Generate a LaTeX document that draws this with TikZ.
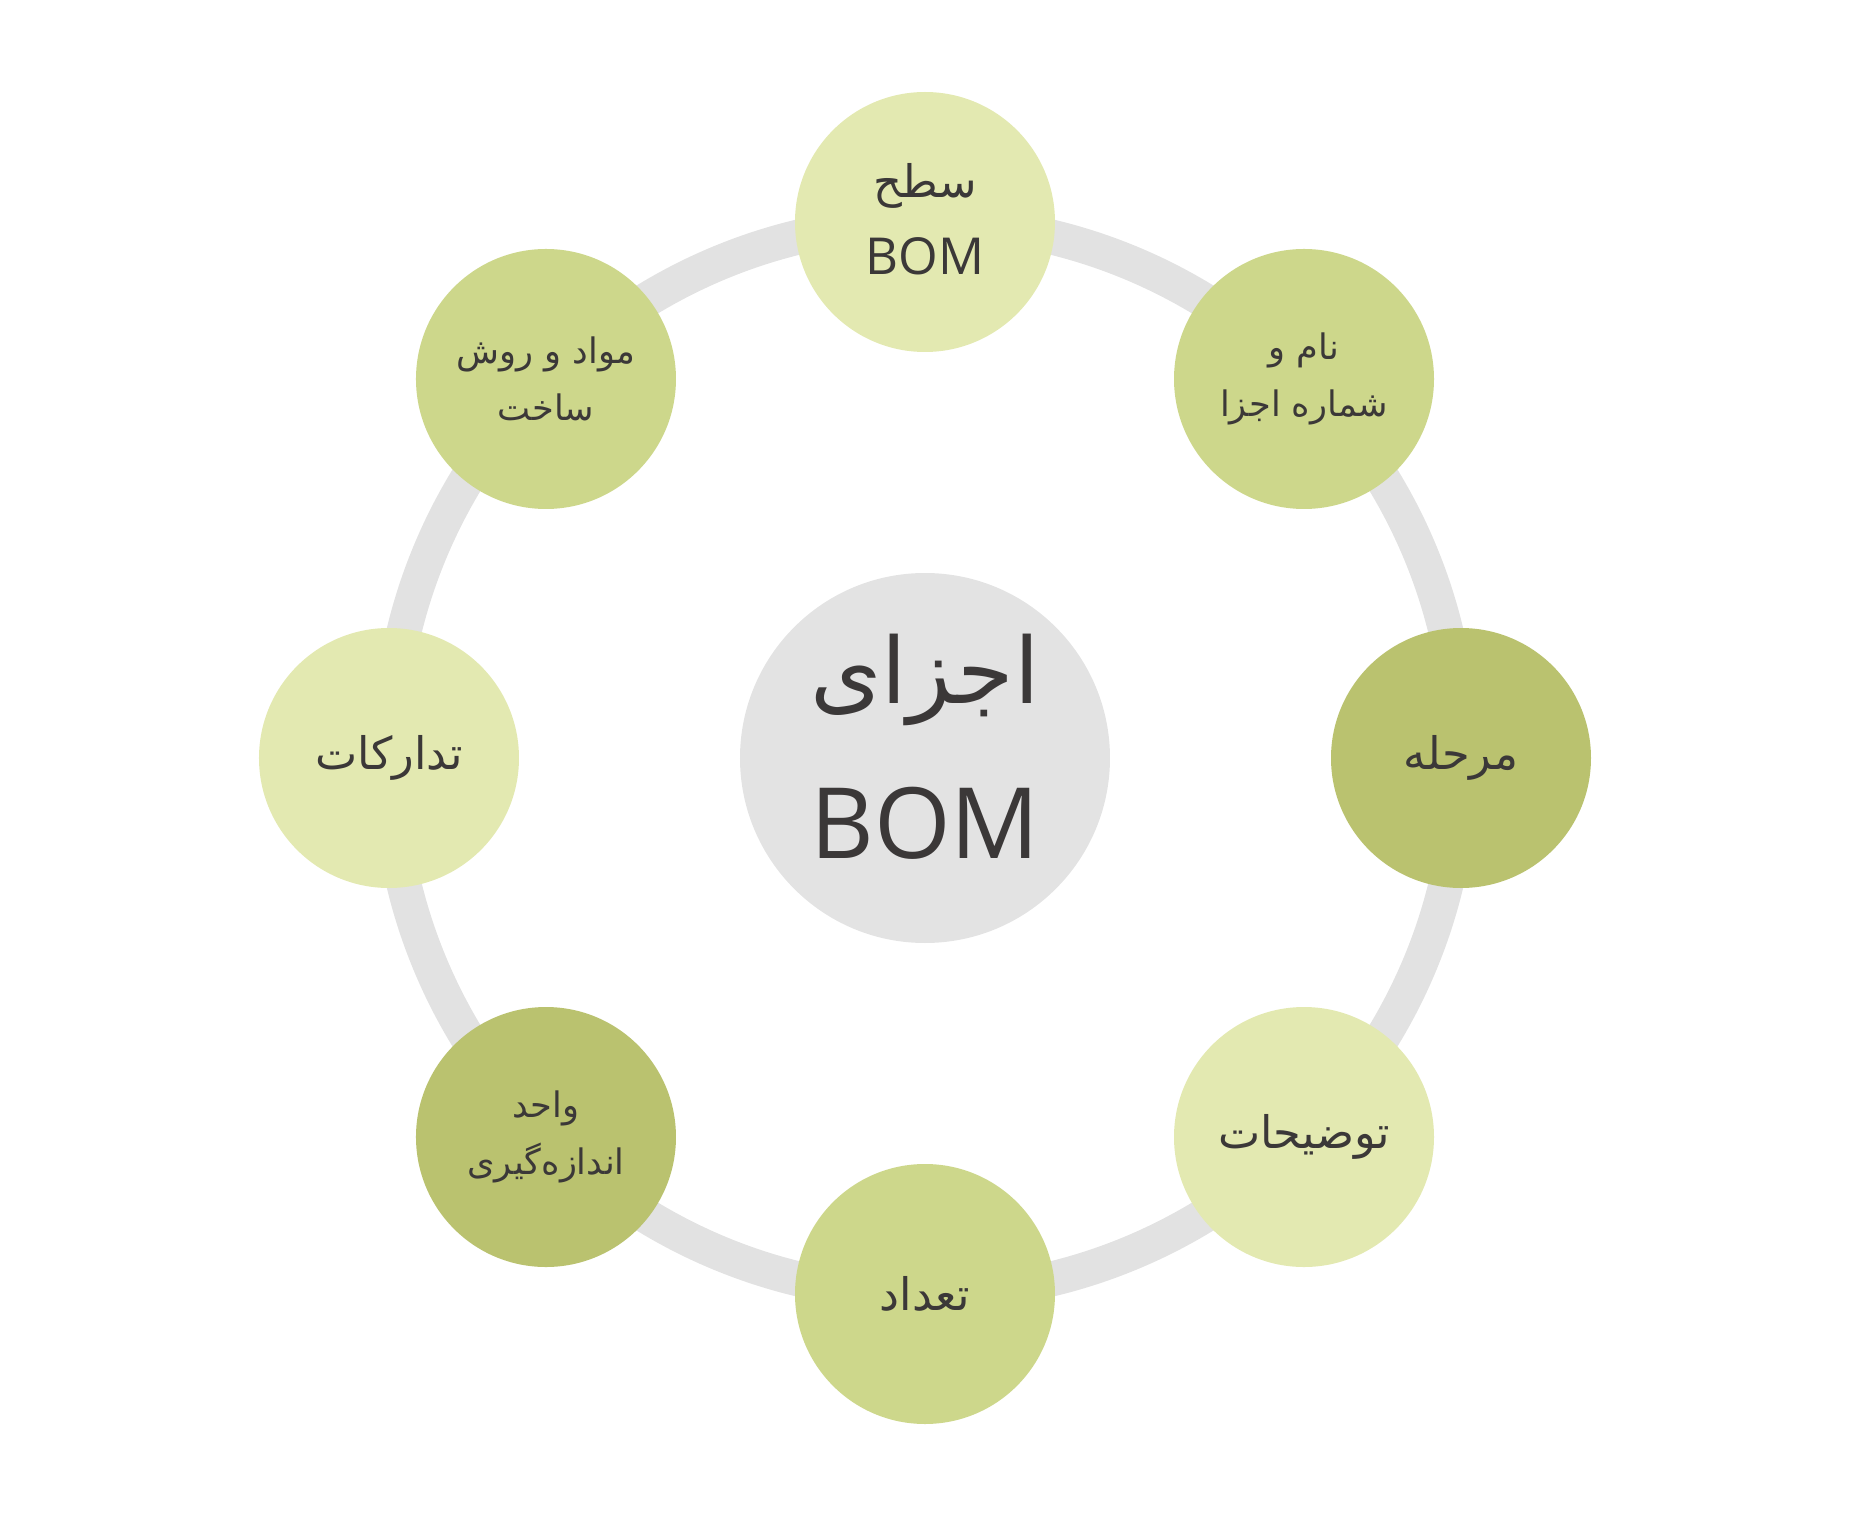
\documentclass[tikz,border=0pt]{standalone}
\usepackage{fontspec}
\setmainfont{DejaVu Sans}
\newfontfamily\arabicfont[Script=Arabic]{DejaVu Sans}
\newfontfamily\latinfont{Open Sans}
\TeXXeTstate=1

\definecolor{ringgray}{HTML}{E2E2E2}
\definecolor{hubgray}{HTML}{E3E3E3}
\definecolor{palegreen}{HTML}{E3E9B1}
\definecolor{midgreen}{HTML}{CDD78B}
\definecolor{deepgreen}{HTML}{BAC26F}
\definecolor{inkgray}{HTML}{3B3838}

\newcommand{\fa}[1]{\beginR #1\endR}

\begin{document}
\begin{tikzpicture}[
        hub/.style={circle, fill=hubgray, text=inkgray, minimum size=7.4cm, inner sep=0pt, align=center,
                    font=\arabicfont\fontsize{52}{88}\selectfont},
        part/.style={circle, text=inkgray, minimum size=5.2cm, inner sep=0pt, align=center,
                    font=\arabicfont\fontsize{20}{32}\selectfont},
        bigpart/.style={part, font=\arabicfont\fontsize{25.5}{44}\selectfont},
        ring/.style={draw=ringgray, line width=0.7cm}]
    \useasboundingbox (-18.5,-15.2) rectangle (18.82,15.16);
    \node[hub] (hub) at (0,0) {\fa{اجزای}\\{\latinfont\fontsize{56}{88}\selectfont BOM}\rule[-0.48cm]{0pt}{0pt}};
    \draw[ring] (hub.center) circle (10.72cm);
    \node[bigpart, fill=palegreen] (level) at (90:10.72) {\fa{سطح}\\{\latinfont\fontsize{29}{44}\selectfont BOM}\rule[-0.12cm]{0pt}{0pt}};
    \node[part, fill=midgreen] (name) at (45:10.72) {\fa{نام و}\\\fa{شماره اجزا}};
    \node[bigpart, fill=deepgreen] (stage) at (0:10.72) {\fa{مرحله}};
    \node[bigpart, fill=palegreen] (notes) at (-45:10.72) {\fa{توضیحات}};
    \node[bigpart, fill=midgreen] (qty) at (-90:10.72) {\fa{تعداد}};
    \node[part, fill=deepgreen] (unit) at (-135:10.72) {\fa{واحد}\\\fa{اندازه‌گیری}};
    \node[bigpart, fill=palegreen] (supply) at (180:10.72) {\fa{تدارکات}};
    \node[part, fill=midgreen] (make) at (135:10.72) {\fa{مواد و روش}\\\fa{ساخت}};
\end{tikzpicture}
\end{document}
